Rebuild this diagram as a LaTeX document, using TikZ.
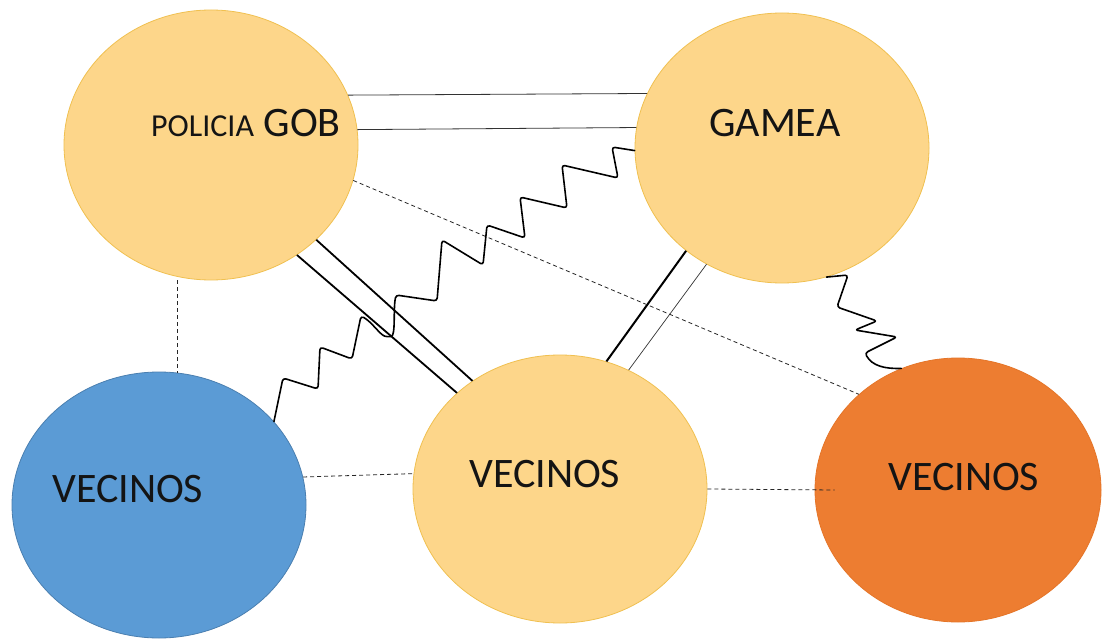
\documentclass[tikz,border=0pt]{standalone}
\usepackage{fontspec}
\setmainfont{Carlito}
\usetikzlibrary{shapes.geometric}
\definecolor{peach}{HTML}{FDD68A}
\definecolor{peachedge}{HTML}{F0C050}
\definecolor{vblue}{HTML}{5B9BD5}
\definecolor{vblueedge}{HTML}{4A7FB0}
\definecolor{vorange}{HTML}{ED7D31}
\definecolor{vorangeedge}{HTML}{E57528}
\definecolor{txt}{HTML}{141414}
\begin{document}
\begin{tikzpicture}[x=1pt,y=-1pt,
  blob/.style={ellipse, draw, line width=0.8pt, minimum width=294pt, minimum height=268pt, inner sep=0pt},
  lab/.style={anchor=base west, inner sep=0pt, text=txt, font=\fontsize{42}{42}\selectfont},
  thinline/.style={draw=black!80, line width=0.8pt},
  boldline/.style={draw=black, line width=1.8pt},
  dashline/.style={draw=black!85, line width=0.8pt, dash pattern=on 4pt off 3pt},
  squig/.style={draw=black, line width=1.6pt, rounded corners=3pt, line join=round, line cap=round}]
\useasboundingbox (0,0) rectangle (1103,639);
\fill[white] (0,0) rectangle (1103,639);

% circles
\node[blob, fill=peach, draw=peachedge, minimum height=270pt] (P) at (211,145) {};
\node[blob, fill=peach, draw=peachedge, minimum height=270pt] (G) at (782,148) {};
\node[blob, fill=vblue, draw=vblueedge, minimum height=266pt] (B) at (159,505) {};
\node[blob, fill=peach, draw=peachedge] (M) at (560,489) {};
\node[blob, fill=vorange, draw=vorangeedge, minimum width=286pt, minimum height=264pt] (O) at (958,490) {};

% labels
\node[lab] (tP) at (151,137) {{\fontsize{32}{32}\selectfont POLICIA} GOB};
\node[lab] (tG) at (709,137) {GAMEA};
\node[lab] (tB) at (52,502) {VECINOS};
\node[lab] (tM) at (469,487) {VECINOS};
\node[lab] (tO) at (888,490) {VECINOS};

% solid links
\draw[thinline] (P.20) -- (G.158.6);
\draw[thinline] (P.6.3) -- (G.172.6);
\draw[boldline] (P.-42.7) -- (M.129);
\draw[boldline] (P.-52) -- (M.137.3);
\draw[boldline, line width=2pt] (G.-133) -- (M.70.6);
\draw[thinline, line width=0.7pt] (G.-123) -- (M.60);

% dashed links
\draw[dashline] (B.82 |- P.south) -- (B.82);
\draw[dashline] (B.11.8) -- (M.174.5);
\draw[dashline] (M.east) -- ([xshift=20pt]O.west);
\draw[dashline] (P.-14.5) -- (O.136.4);

% wavy links
\draw[squig] (B.36) -- (283,378) -- (318,389) -- (320,347) -- (352,359) -- (361,316)
  .. controls (372,322) and (380,335) .. (388,337)
  .. controls (396,336) and (393,310) .. (396,295)
  -- (437,301) -- (442,240) -- (483,265) -- (487,225) -- (525,238) -- (520,197)
  -- (567,208) -- (562,165) -- (618,178) -- (612,147) -- (G.181);
\draw[squig] (G.-71.8) -- (848,275) -- (837,307) -- (877,321) -- (855,330) -- (897,337)
  -- (865,353) .. controls (872,366) and (885,369) .. (O.115.6);
\end{tikzpicture}
\end{document}
